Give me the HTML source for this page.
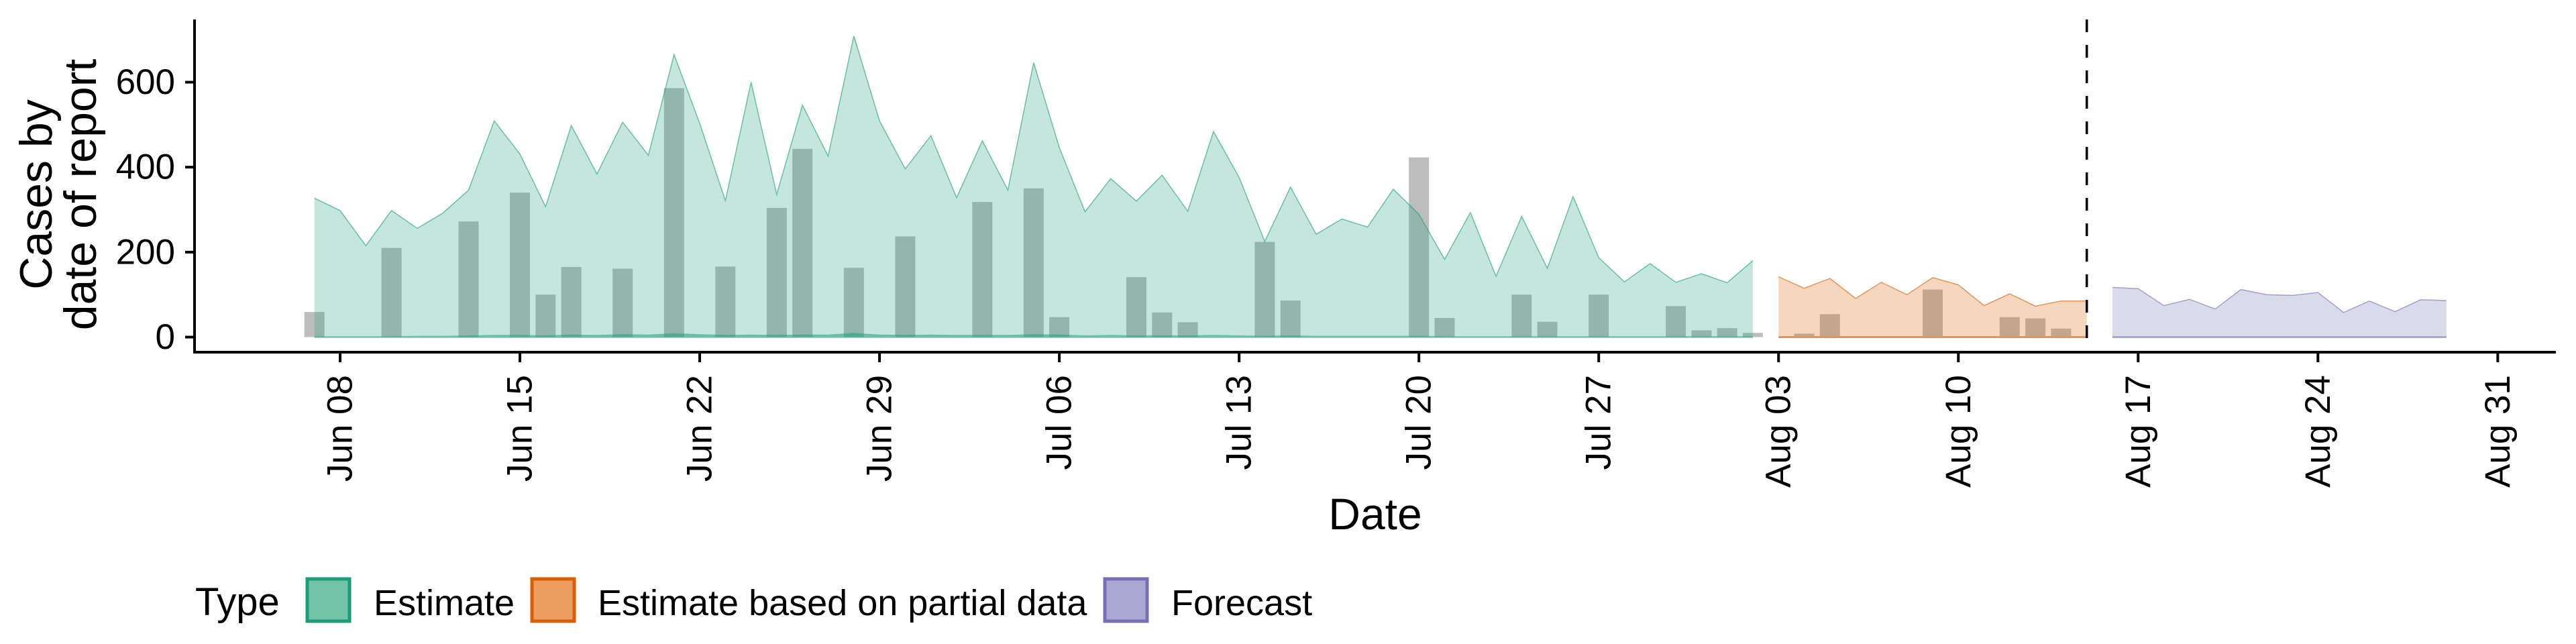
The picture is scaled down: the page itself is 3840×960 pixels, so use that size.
<!DOCTYPE html>
<html>
<head>
<meta charset="utf-8">
<style>
  html,body{margin:0;padding:0;background:#fff;}
  svg{display:block;font-family:"Liberation Sans",Arial,sans-serif;}
</style>
</head>
<body>
<svg id="chart" width="3840" height="960" viewBox="0 0 3840 960" xmlns="http://www.w3.org/2000/svg">
  <g id="plot"></g>
  <g id="axes"></g>
  <text x="0" y="0" transform="translate(54,290) rotate(-90)" text-anchor="middle" dominant-baseline="central" font-size="68">Cases by</text>
  <text x="0" y="0" transform="translate(120,290) rotate(-90)" text-anchor="middle" dominant-baseline="central" font-size="68">date of report</text>
  <text x="2050" y="789" text-anchor="middle" font-size="66">Date</text>
  <g>
    <text x="291" y="917" font-size="58">Type</text>
    <rect x="458" y="863" width="63" height="63" fill="#72c3a8" stroke="#1b9e77" stroke-width="5"/>
    <text x="557" y="917" font-size="54">Estimate</text>
    <rect x="793" y="863" width="63" height="63" fill="#ec9d61" stroke="#d95f02" stroke-width="5"/>
    <text x="891" y="917" font-size="54">Estimate based on partial data</text>
    <rect x="1647" y="863" width="63" height="63" fill="#aaa7d2" stroke="#7570b3" stroke-width="5"/>
    <text x="1746" y="917" font-size="54">Forecast</text>
  </g>
</svg>
<script>
// Day offsets are relative to Jun 08 (day 0)
const estimateStart = -1;
const estimateUpper = [327,298,215,298,256,292,346,509,431,307,498,384,506,428,665,503,321,600,336,546,426,709,509,396,474,328,462,346,646,446,295,373,320,381,296,484,376,225,353,242,278,259,348,289,183,293,143,284,162,331,187,130,173,129,149,128,180];
const estimateLower = [2,2,2,2,3,3,4,5,5,4,6,5,7,6,9,7,5,6,5,6,6,10,6,5,6,5,5,5,7,6,4,5,4,4,4,5,4,3,4,3,3,3,3,3,2,2,2,2,2,2,2,2,2,2,2,2,2];
const partialStart = 56;
const partialUpper = [142,115,138,91,129,100,140,123,74,102,73,85,85];
const forecastStart = 69;
const forecastUpper = [117,114,74,89,66,112,100,98,105,58,85,60,88,86];
const reportDays = [-1,2,5,7,8,9,11,13,15,17,18,20,22,25,27,28,31,32,33,36,37,42,43,46,47,49,52,53,54,55,57,58,62,65,66,67];
const reportCases = [59,210,272,340,100,165,161,586,166,304,443,163,237,318,350,47,141,58,35,224,86,423,45,100,36,100,73,16,21,10,8,54,112,47,44,20];
const yTicks = [0,200,400,600];
const xTickDays = [0,7,14,21,28,35,42,49,56,63,70,77,84];
const xTickLabels = ["Jun 08","Jun 15","Jun 22","Jun 29","Jul 06","Jul 13","Jul 20","Jul 27","Aug 03","Aug 10","Aug 17","Aug 24","Aug 31"];
const forecastCutDay = 68;

const NS = "http://www.w3.org/2000/svg";
const X0 = 507, DAY = 38.29, Y0 = 502.5, YS = 0.6333;
function xs(d){ return X0 + d*DAY; }
function ys(v){ return Y0 - v*YS; }
function mk(tag, attrs, parent){
  const e = document.createElementNS(NS, tag);
  for (const k in attrs) e.setAttribute(k, attrs[k]);
  parent.appendChild(e);
  return e;
}
const plot = document.getElementById('plot');
const axes = document.getElementById('axes');

// bars first (ribbons drawn translucently over them)
reportDays.forEach((d,i)=>{
  const h = reportCases[i]*YS;
  const b = mk('rect', {x: (xs(d)-15).toFixed(1), y: ys(reportCases[i]).toFixed(1), width: 30, height: h.toFixed(1), fill: '#bdbdbd'}, plot);
  
  
});

function ribbon(start, upper, fill, name){
  let top = upper.map((v,i)=> xs(start+i).toFixed(1)+','+ys(v).toFixed(1));
  let bot = upper.map((v,i)=> xs(start+i).toFixed(1)+','+ys(0).toFixed(1)).reverse();
  const p = mk('polygon', {points: top.concat(bot).join(' '), fill: fill, 'fill-opacity': 0.26}, plot);
  
  
  const l = mk('polyline', {points: top.join(' '), fill: 'none', stroke: fill, 'stroke-width': 1.5, 'stroke-opacity': 0.6}, plot);
  
  
}
ribbon(estimateStart, estimateUpper, '#1b9e77', 'estimate-ribbon');
ribbon(partialStart, partialUpper, '#d95f02', 'partial-ribbon');
ribbon(forecastStart, forecastUpper, '#7570b3', 'forecast-ribbon');

(function(){
  const top = estimateLower.map((v,i)=> xs(estimateStart+i).toFixed(1)+','+ys(v).toFixed(1));
  const bot = estimateLower.map((v,i)=> xs(estimateStart+i).toFixed(1)+','+ys(-2).toFixed(1)).reverse();
  const p = mk('polygon', {points: top.concat(bot).join(' '), fill: '#1b9e77', 'fill-opacity': 0.55}, plot);
  
  
  const o = mk('line', {x1: xs(partialStart), x2: xs(partialStart+partialUpper.length-1), y1: ys(0), y2: ys(0), stroke: '#e8925a', 'stroke-width': 3}, plot);
  
  
  const f = mk('line', {x1: xs(forecastStart), x2: xs(forecastStart+forecastUpper.length-1), y1: ys(0), y2: ys(0), stroke: '#aaa7d2', 'stroke-width': 3}, plot);
  
  
})();

const dl = mk('line', {x1: xs(forecastCutDay), x2: xs(forecastCutDay), y1: 29, y2: 525, stroke: '#000', 'stroke-width': 3.5, 'stroke-dasharray': '19 19'}, plot);



const ya = mk('line', {x1: 290, x2: 290, y1: 29, y2: 527, stroke: '#000', 'stroke-width': 4}, axes);


const xa = mk('line', {x1: 288, x2: 3810, y1: 525, y2: 525, stroke: '#000', 'stroke-width': 4}, axes);


yTicks.forEach(v=>{
  const t = mk('line', {x1: 276, x2: 290, y1: ys(v), y2: ys(v), stroke: '#000', 'stroke-width': 4}, axes);
  
  
  const tx = mk('text', {x: 261, y: ys(v), 'text-anchor': 'end', 'dominant-baseline': 'central', 'font-size': 53}, axes);
  tx.textContent = v;
  
  
});
xTickDays.forEach((d,i)=>{
  const t = mk('line', {x1: xs(d), x2: xs(d), y1: 525, y2: 540, stroke: '#000', 'stroke-width': 4}, axes);
  
  
  const tx = mk('text', {x: 0, y: 0, transform: 'translate(' + xs(d).toFixed(1) + ',559) rotate(-90)', 'text-anchor': 'end', 'dominant-baseline': 'central', 'font-size': 53}, axes);
  tx.textContent = xTickLabels[i];
  
  
});
</script>
</body>
</html>
